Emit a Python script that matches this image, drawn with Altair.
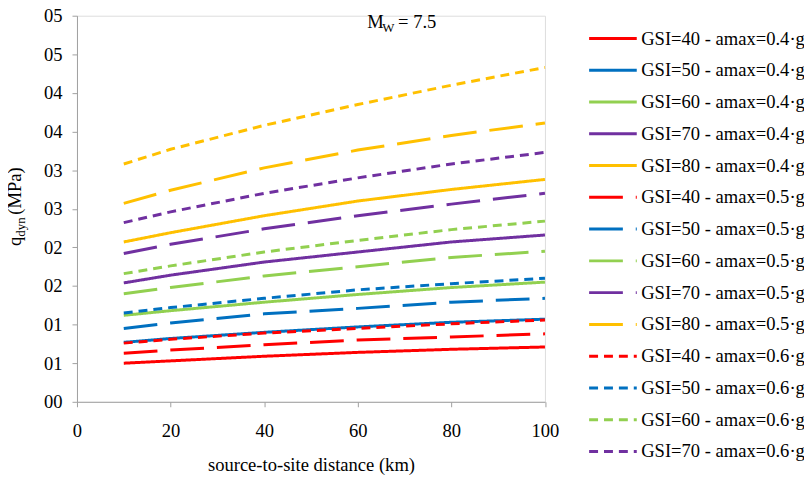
import altair as alt
import pandas as pd

# ---- data ----
distance = [10, 20, 40, 60, 80, 100]

series_names = [
    "GSI=40 - amax=0.4·g", "GSI=50 - amax=0.4·g", "GSI=60 - amax=0.4·g",
    "GSI=70 - amax=0.4·g", "GSI=80 - amax=0.4·g",
    "GSI=40 - amax=0.5·g", "GSI=50 - amax=0.5·g", "GSI=60 - amax=0.5·g",
    "GSI=70 - amax=0.5·g", "GSI=80 - amax=0.5·g",
    "GSI=40 - amax=0.6·g", "GSI=50 - amax=0.6·g", "GSI=60 - amax=0.6·g",
    "GSI=70 - amax=0.6·g", "GSI=80 - amax=0.6·g",
]

q_40_04 = [0.50, 0.53, 0.59, 0.64, 0.68, 0.71]
q_50_04 = [0.77, 0.82, 0.90, 0.97, 1.03, 1.07]
q_60_04 = [1.12, 1.18, 1.29, 1.39, 1.48, 1.55]
q_70_04 = [1.54, 1.64, 1.81, 1.94, 2.07, 2.16]
q_80_04 = [2.07, 2.19, 2.41, 2.60, 2.75, 2.88]
q_40_05 = [0.63, 0.67, 0.74, 0.80, 0.84, 0.88]
q_50_05 = [0.95, 1.02, 1.14, 1.21, 1.29, 1.34]
q_60_05 = [1.40, 1.48, 1.63, 1.75, 1.87, 1.95]
q_70_05 = [1.92, 2.04, 2.24, 2.41, 2.56, 2.70]
q_80_05 = [2.57, 2.74, 3.03, 3.26, 3.45, 3.61]
q_40_06 = [0.76, 0.81, 0.89, 0.95, 1.01, 1.06]
q_50_06 = [1.15, 1.22, 1.34, 1.45, 1.53, 1.60]
q_60_06 = [1.66, 1.76, 1.94, 2.09, 2.23, 2.34]
q_70_06 = [2.32, 2.46, 2.70, 2.90, 3.08, 3.23]
q_80_06 = [3.08, 3.27, 3.58, 3.85, 4.10, 4.33]

all_q = [q_40_04, q_50_04, q_60_04, q_70_04, q_80_04,
         q_40_05, q_50_05, q_60_05, q_70_05, q_80_05,
         q_40_06, q_50_06, q_60_06, q_70_06, q_80_06]

base_colors = ["#FF0000", "#0070C0", "#92D050", "#7030A0", "#FFC000"]
series_colors = base_colors * 3
dash_solid = [1, 0]
dash_long = [34, 13]
dash_short = [9, 6]
series_dashes = [dash_solid] * 5 + [dash_long] * 5 + [dash_short] * 5

y_ticks = [0, 0.5, 1, 1.5, 2, 2.5, 3, 3.5, 4, 4.5, 5]
x_ticks = [0, 20, 40, 60, 80, 100]

rows = []
for name, qs in zip(series_names, all_q):
    for d, q in zip(distance, qs):
        rows.append({"distance": d, "q": q, "series": name})
df = pd.DataFrame(rows)

FONT = "Liberation Serif"
FS = 18.7
GREY = "#A0A0A0"

W, H = 471.5, 389

legend_cfg = dict(title=None, orient="none", legendX=530.5, legendY=13.5,
                  values=series_names[:14],
                  symbolType="M-3,0H3", symbolSize=256,
                  symbolStrokeWidth=3,
                  labelFont=FONT, labelFontSize=FS, labelColor="black",
                  rowPadding=12, labelOffset=19, padding=0,
                  labelLimit=400)

lines = alt.Chart(df).mark_line(strokeWidth=3, clip=False).encode(
    x=alt.X("distance:Q",
            scale=alt.Scale(domain=[0, 100], nice=False),
            axis=alt.Axis(values=x_ticks, title="source-to-site distance (km)",
                          titleFont=FONT, titleFontSize=FS, titleFontWeight="normal",
                          titleColor="black", titleBaseline="alphabetic", titleY=69,
                          labelFont=FONT, labelFontSize=FS, labelColor="black",
                          labelPadding=15, tickSize=5, tickColor=GREY,
                          domainColor=GREY, grid=False, labelFlush=False)),
    y=alt.Y("q:Q",
            scale=alt.Scale(domain=[0, 5], nice=False),
            axis=alt.Axis(values=y_ticks, title=None,
                          labelExpr="'0' + round(datum.value)",
                          labelFont=FONT, labelFontSize=FS, labelColor="black",
                          labelPadding=10, tickSize=5, tickColor=GREY,
                          domainColor=GREY, grid=False)),
    color=alt.Color("series:N",
                    scale=alt.Scale(domain=series_names, range=series_colors),
                    sort=series_names,
                    legend=alt.Legend(**legend_cfg)),
    strokeDash=alt.StrokeDash("series:N",
                              scale=alt.Scale(domain=series_names, range=series_dashes),
                              sort=series_names,
                              legend=alt.Legend(**legend_cfg)),
    order=alt.Order("distance:Q"),
)


def txt(s, x, y, size=FS, angle=None):
    kw = dict(font=FONT, fontSize=size, align="left", baseline="alphabetic", color="black")
    if angle is not None:
        kw["angle"] = angle
    return alt.Chart(pd.DataFrame({"t": [s]})).mark_text(**kw).encode(
        text="t:N", x=alt.value(x), y=alt.value(y))


# annotation: M_W = 7.5
m_text = txt("M", 292.5, 12)
w_text = txt("W", 307.5, 16, size=13)
eq_text = txt("= 7.5", 323.5, 12)

# y-axis title: q_dyn (MPa)
yq = txt("q", -56.0, 232, angle=270)
ydyn = txt("dyn", -52.5, 222.6, size=13, angle=270)
ympa = txt("(MPa)", -56.0, 200.5, angle=270)

chart = alt.layer(lines, m_text, w_text, eq_text, yq, ydyn, ympa).properties(
    width=W, height=H,
    autosize=alt.AutoSizeParams(type="none"),
    padding={"left": 69.5, "top": 6, "right": 261, "bottom": 76},
).configure_view(stroke=None).configure(background="white")

chart.save("out.html", embed_options={"renderer": "svg", "actions": False})
